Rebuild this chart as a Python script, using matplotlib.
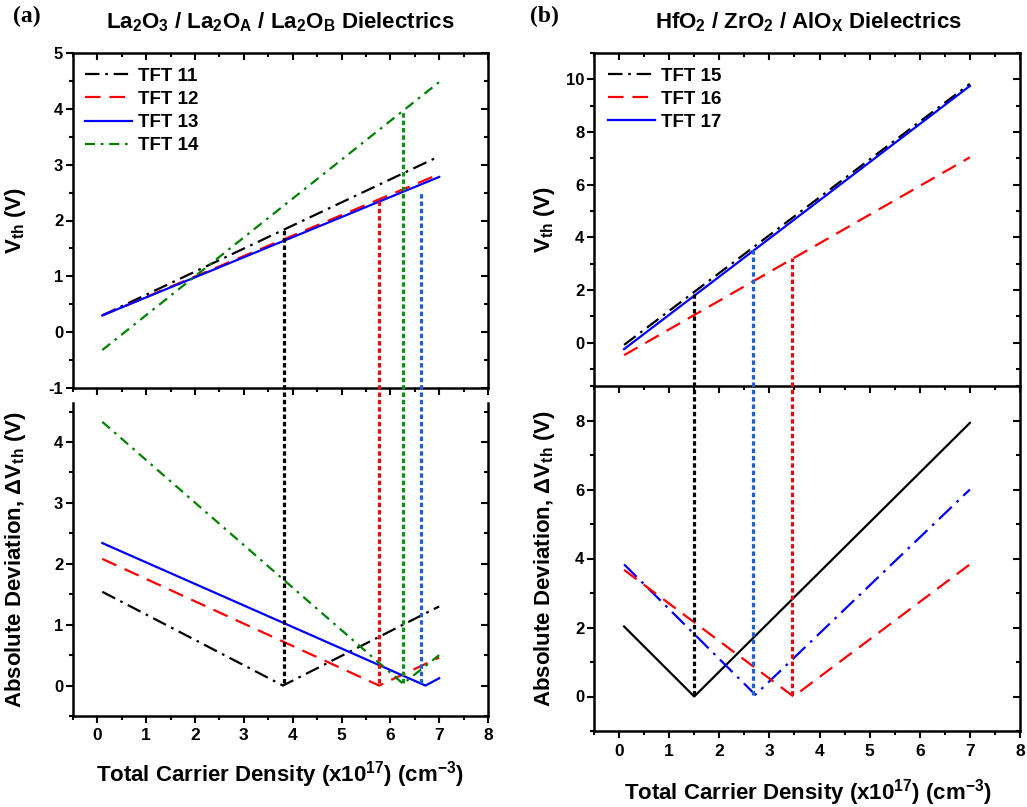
import matplotlib
matplotlib.use('Agg')
import matplotlib.pyplot as plt
from matplotlib.ticker import MultipleLocator, NullFormatter

plt.rcParams['font.family'] = ['Liberation Sans', 'DejaVu Sans']
plt.rcParams['font.weight'] = 'bold'
plt.rcParams['axes.unicode_minus'] = False
plt.rcParams['mathtext.fontset'] = 'custom'
plt.rcParams['mathtext.rm'] = 'Liberation Sans:bold'
plt.rcParams['mathtext.it'] = 'Liberation Sans:bold'
plt.rcParams['mathtext.bf'] = 'Liberation Sans:bold'
plt.rcParams['mathtext.sf'] = 'Liberation Sans:bold'
plt.rcParams['mathtext.default'] = 'rm'

NARROW = ['Liberation Sans Narrow', 'Liberation Sans', 'DejaVu Sans']

# ---------------- data ----------------
n_ends = [0.1, 7.0]

# panel (a) threshold voltages
labels_a = ['TFT 11', 'TFT 12', 'TFT 13', 'TFT 14']
vth_tft11 = [0.30, 3.15]
vth_tft12 = [0.30, 2.83]
vth_tft13 = [0.30, 2.78]
vth_tft14 = [-0.32, 4.48]

# panel (a) absolute deviations
dev_x_tft11 = [0.1, 3.80, 7.0]
dev_tft11 = [1.54, 0.00, 1.30]
dev_x_tft12 = [0.1, 5.77, 7.0]
dev_tft12 = [2.08, 0.00, 0.46]
dev_x_tft13 = [0.1, 6.72, 7.0]
dev_tft13 = [2.34, 0.00, 0.12]
dev_x_tft14 = [0.1, 6.26, 7.0]
dev_tft14 = [4.33, 0.03, 0.50]

# panel (a) vertical markers
mark_x_a = [3.83, 5.77, 6.26, 6.63]
mark_top_a = [1.84, 2.35, 3.94, 2.49]
mark_bot_a = [0.05, 0.05, 0.05, 0.05]

# panel (b) threshold voltages
labels_b = ['TFT 15', 'TFT 16', 'TFT 17']
vth_tft15 = [-0.08, 9.83]
vth_tft16 = [-0.47, 7.04]
vth_tft17 = [-0.24, 9.75]

# panel (b) absolute deviations
dev_x_tft15 = [0.1, 1.50, 7.0]
dev_tft15 = [2.03, 0.00, 7.93]
dev_x_tft17 = [0.1, 2.72, 7.0]
dev_tft17 = [3.83, 0.05, 6.00]
dev_x_tft16 = [0.1, 3.48, 7.0]
dev_tft16 = [3.67, 0.00, 3.83]

# panel (b) vertical markers
mark_x_b = [1.50, 2.68, 3.46]
mark_top_b = [1.87, 3.64, 3.20]
mark_bot_b = [0.05, 0.05, 0.05]

# ---------------- styles ----------------
BLACK = '#000000'
RED = '#ff0000'
BLUE = '#0000ff'
GREEN = '#008000'
DOT_COLORS_A = ['#000000', '#e01010', '#109010', '#2060d0']
DOT_COLORS_B = ['#000000', '#2060d0', '#e01010']

LW = 1.6
DASHDOT = (0, (6.5, 2.6, 1.2, 2.6))
DASHED = (0, (7, 4))
DASHDOT_G = (0, (4.5, 2.6, 1.2, 2.6))
DOTTED = (0, (1.4, 0.9))

W, H = 1027, 807
fig = plt.figure(figsize=(W / 100, H / 100), dpi=100)


def rect(l, t, r, b):
    return [l / W, (H - b) / H, (r - l) / W, (b - t) / H]


axA1 = fig.add_axes(rect(73, 53, 488, 388))
axA2 = fig.add_axes(rect(73, 403, 488, 716))
axB1 = fig.add_axes(rect(594, 53, 1020, 386))
axB2 = fig.add_axes(rect(594, 386, 1020, 731))


def style(ax, ylim, ymaj, ymin, top_spine, xlabels):
    ax.patch.set_visible(False)
    ax.set_xlim(-0.5, 8)
    ax.set_ylim(*ylim)
    ax.xaxis.set_major_locator(MultipleLocator(1))
    ax.xaxis.set_minor_locator(MultipleLocator(0.5))
    ax.yaxis.set_major_locator(MultipleLocator(ymaj))
    ax.yaxis.set_minor_locator(MultipleLocator(ymin))
    for s in ax.spines.values():
        s.set_linewidth(1.8)
    ax.tick_params(which='both', direction='out', width=1.5, top=False, right=False)
    ax.tick_params(which='major', length=5)
    ax.tick_params(which='minor', length=3)
    ax.tick_params(axis='y', labelsize=12, pad=2)
    ax.tick_params(axis='x', labelsize=12.5, pad=4)
    if not xlabels:
        ax.xaxis.set_major_formatter(NullFormatter())
    else:
        for lab in ax.get_xticklabels():
            lab.set_family(NARROW)
    # right spine ticks pointing inward
    sec = ax.secondary_yaxis('right')
    sec.yaxis.set_major_locator(MultipleLocator(ymaj))
    sec.yaxis.set_minor_locator(MultipleLocator(ymin))
    sec.tick_params(which='both', direction='in', width=1.5, labelright=False)
    sec.tick_params(which='major', length=5)
    sec.tick_params(which='minor', length=3)
    sec.spines['right'].set_linewidth(1.8)
    if top_spine:
        sect = ax.secondary_xaxis('top')
        sect.xaxis.set_major_locator(MultipleLocator(1))
        sect.xaxis.set_minor_locator(MultipleLocator(0.5))
        sect.tick_params(which='both', direction='in', width=1.5, labeltop=False)
        sect.tick_params(which='major', length=5)
        sect.tick_params(which='minor', length=3)
        sect.spines['top'].set_linewidth(1.8)
    ax.spines['top'].set_visible(False)
    ax.spines['right'].set_visible(False)


style(axA1, (-1, 5), 1, 0.5, True, False)
style(axA2, (-0.5, 4.64), 1, 0.5, False, True)
style(axB1, (-1.64, 11), 2, 1, True, False)
style(axB2, (-1, 9), 2, 1, False, True)

LEG = dict(loc='upper left', frameon=False, borderaxespad=0, borderpad=0,
           handlelength=2.5, handletextpad=0.3, labelspacing=0.32,
           prop={'size': 13.5, 'weight': 'bold'})

# ---- panel (a) top
axA1.plot(n_ends, vth_tft11, color=BLACK, lw=LW, ls=DASHDOT, label=labels_a[0])
axA1.plot(n_ends, vth_tft12, color=RED, lw=LW, ls=DASHED, label=labels_a[1])
axA1.plot(n_ends, vth_tft13, color=BLUE, lw=LW, ls='-', label=labels_a[2])
axA1.plot(n_ends, vth_tft14, color=GREEN, lw=LW, ls=DASHDOT_G, label=labels_a[3])
axA1.legend(bbox_to_anchor=(0.029, 0.956), **LEG)

# ---- panel (a) bottom
axA2.plot(dev_x_tft11, dev_tft11, color=BLACK, lw=LW, ls=DASHDOT)
axA2.plot(dev_x_tft12, dev_tft12, color=RED, lw=LW, ls=DASHED)
axA2.plot(dev_x_tft13, dev_tft13, color=BLUE, lw=LW, ls='-')
axA2.plot(dev_x_tft14, dev_tft14, color=GREEN, lw=LW, ls=DASHDOT_G)

# ---- panel (b) top
axB1.plot(n_ends, vth_tft15, color=BLACK, lw=LW, ls=DASHDOT, label=labels_b[0])
axB1.plot(n_ends, vth_tft16, color=RED, lw=LW, ls=DASHED, label=labels_b[1])
axB1.plot(n_ends, vth_tft17, color=BLUE, lw=LW, ls='-', label=labels_b[2])
axB1.legend(bbox_to_anchor=(0.033, 0.956), **LEG)

# ---- panel (b) bottom
axB2.plot(dev_x_tft15, dev_tft15, color=BLACK, lw=LW, ls='-')
axB2.plot(dev_x_tft17, dev_tft17, color=BLUE, lw=LW, ls=(0, (8, 3, 1.2, 3)))
axB2.plot(dev_x_tft16, dev_tft16, color=RED, lw=LW, ls=DASHED)


# ---- vertical dotted markers spanning both axes
def marker_lines(ax_top, ax_bot, xs, tops, bots, colors):
    for x, yt, yb, c in zip(xs, tops, bots, colors):
        disp = ax_top.transData.transform((x, yt))
        y_in_bot = ax_bot.transData.inverted().transform(disp)[1]
        ax_bot.plot([x, x], [yb, y_in_bot], color=c, lw=2.3, ls=DOTTED,
                    clip_on=False, zorder=5, solid_capstyle='butt',
                    dash_capstyle='butt')


marker_lines(axA1, axA2, mark_x_a, mark_top_a, mark_bot_a, DOT_COLORS_A)
marker_lines(axB1, axB2, mark_x_b, mark_top_b, mark_bot_b, DOT_COLORS_B)

# ---- labels
vlab = r'V$_{\mathrm{th}}$ (V)'
dlab = r'Absolute Deviation, ΔV$_{\mathrm{th}}$ (V)'
xlab = r'Total Carrier Density (x10$^{17}$) (cm$^{-3}$)'

for ax, xc in ((axA1, -0.108), (axA2, -0.108), (axB1, -0.088), (axB2, -0.088)):
    ax.yaxis.set_label_coords(xc, 0.5)
axA1.set_ylabel(vlab, fontsize=16, fontweight='bold')
axA2.set_ylabel(dlab, fontsize=16, fontweight='bold')
axB1.set_ylabel(vlab, fontsize=16, fontweight='bold')
axB2.set_ylabel(dlab, fontsize=16, fontweight='bold')

fig.text(280 / W, 1 - 775 / H, xlab, ha='center', va='center', fontsize=16,
         fontweight='bold', family=NARROW)
fig.text(808 / W, 1 - 793 / H, xlab, ha='center', va='center', fontsize=16,
         fontweight='bold', family=NARROW)

fig.text(280 / W, 1 - 22 / H, r'La$_2$O$_3$ / La$_2$O$_\mathrm{A}$ / La$_2$O$_\mathrm{B}$ Dielectrics',
         ha='center', va='center', fontsize=16, fontweight='bold')
fig.text(808 / W, 1 - 22 / H, r'HfO$_2$ / ZrO$_2$ / AlO$_\mathrm{X}$ Dielectrics',
         ha='center', va='center', fontsize=16, fontweight='bold')
fig.text(13 / W, 1 - 16 / H, '(a)', ha='left', va='center', fontsize=17,
         fontweight='bold', family=['Liberation Serif', 'DejaVu Serif'])
fig.text(530 / W, 1 - 16 / H, '(b)', ha='left', va='center', fontsize=17,
         fontweight='bold', family=['Liberation Serif', 'DejaVu Serif'])

fig.savefig('out.png', dpi=100)
